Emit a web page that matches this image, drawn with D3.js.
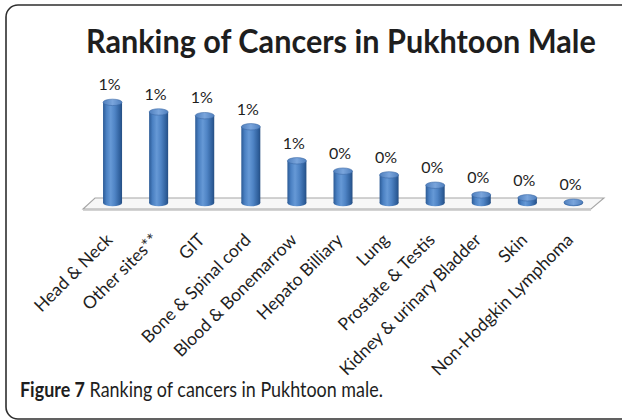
<!DOCTYPE html>
<html>
<head>
<meta charset="utf-8">
<script src="https://cdn.jsdelivr.net/npm/d3@7"></script>
<style>
  html, body { margin: 0; padding: 0; background: #ffffff; }
  svg { display: block; }
  text { font-family: Lato, "Open Sans", "DejaVu Sans", sans-serif; fill: #1e1e1e; }
</style>
</head>
<body>
<svg id="chart" width="622" height="420"></svg>
<script>
// Cancer sites, ranked, with share of cases among Pukhtoon males (percent)
const categories = [
  "Head & Neck", "Other sites**", "GIT", "Bone & Spinal cord",
  "Blood & Bonemarrow", "Hepato Billiary", "Lung", "Prostate & Testis",
  "Kidney & urinary Bladder", "Skin", "Non-Hodgkin Lymphoma"
];
const values = [1.36, 1.23, 1.18, 1.03, 0.57, 0.43, 0.38, 0.24, 0.11, 0.07, 0.01];
const valueLabels = values.map(v => Math.round(v) + "%");

const titleText = "Ranking of Cancers in Pukhtoon Male";
const captionBold = "Figure 7";
const captionRest = " Ranking of cancers in Pukhtoon male.";

const svg = d3.select("#chart");

// Rounded panel frame
svg.append("rect")
  .attr("x", 6).attr("y", 5)
  .attr("width", 660).attr("height", 414)
  .attr("rx", 12).attr("ry", 12)
  .attr("fill", "#ffffff")
  .attr("stroke", "#2e2e2e")
  .attr("stroke-width", 1.6);

// Scales
const x = d3.scalePoint()
  .domain(categories)
  .range([89.5, 596.5])
  .padding(0.5);

const y = d3.scaleLinear()
  .domain([0, 1.5])
  .range([203, 92]);

const barW = 19;
const capRy = 3.2;

// Gradients for the cylinder shading
const defs = svg.append("defs");
const bodyGrad = defs.append("linearGradient")
  .attr("id", "cyl").attr("x1", "0%").attr("x2", "100%").attr("y1", "0%").attr("y2", "0%");
[[0, "#2b5a95"], [0.18, "#4a80c2"], [0.4, "#6699d6"], [0.62, "#4f84c5"], [0.9, "#2e5e9a"], [1, "#264e82"]]
  .forEach(([o, c]) => bodyGrad.append("stop").attr("offset", o).attr("stop-color", c));
const capGrad = defs.append("linearGradient")
  .attr("id", "cap").attr("x1", "0%").attr("x2", "100%").attr("y1", "0%").attr("y2", "0%");
[[0, "#4f7fbd"], [0.5, "#7aa5dc"], [1, "#4f7fbd"]]
  .forEach(([o, c]) => capGrad.append("stop").attr("offset", o).attr("stop-color", c));

// Floor plane of the 3-D plot area
const [r0, r1] = x.range();
const backY = y(0) - 5, frontY = y(0) + 6;
const floor = [
  [r0 + 5.5, backY], [r1 + 7.5, backY],
  [r1 - 5.5, frontY], [r0 - 6.5, frontY]
];
svg.append("path")
  .attr("d", d3.line()(floor) + "Z")
  .attr("fill", "#f7f7f7")
  .attr("stroke", "#a6a6a6")
  .attr("stroke-width", 1.1);
svg.append("line")
  .attr("x1", floor[3][0]).attr("y1", frontY + 1)
  .attr("x2", floor[2][0]).attr("y2", frontY + 1)
  .attr("stroke", "#c4c4c4").attr("stroke-width", 1.6);

// Cylinders
const bars = svg.append("g").selectAll("g")
  .data(categories.map((c, i) => ({ c, v: values[i], label: valueLabels[i] })))
  .join("g");

bars.append("ellipse")
  .attr("cx", d => x(d.c))
  .attr("cy", y(0))
  .attr("rx", barW / 2).attr("ry", capRy)
  .attr("fill", "url(#cyl)");

bars.append("rect")
  .attr("x", d => x(d.c) - barW / 2)
  .attr("y", d => y(d.v))
  .attr("width", barW)
  .attr("height", d => y(0) - y(d.v))
  .attr("fill", "url(#cyl)");

bars.append("ellipse")
  .attr("cx", d => x(d.c))
  .attr("cy", d => y(d.v))
  .attr("rx", barW / 2).attr("ry", capRy)
  .attr("fill", "url(#cap)")
  .attr("stroke", "#3c6aa6").attr("stroke-width", 0.6);

// Value labels
bars.append("text")
  .attr("x", d => x(d.c) - 3)
  .attr("y", d => y(d.v) - capRy - 9)
  .attr("text-anchor", "middle")
  .attr("font-size", 16)
  .text(d => d.label);

// Category labels, rotated
svg.append("g").selectAll("text")
  .data(categories)
  .join("text")
  .attr("transform", d => `translate(${x(d) + 1},241) rotate(-45)`)
  .attr("text-anchor", "end")
  .attr("font-size", 17.5)
  .text(d => d);

// Title, fitted to its line
const title = svg.append("text")
  .attr("x", 0).attr("y", 0)
  .attr("font-size", 32)
  .attr("font-weight", 700)
  .text(titleText);
{
  const w = title.node().getComputedTextLength();
  const sx = 510 / w;
  title.attr("transform", `translate(86,53) scale(${sx},1)`);
}

// Caption
const caption = svg.append("text")
  .attr("x", 0).attr("y", 0)
  .attr("font-size", 21);
caption.append("tspan").attr("font-weight", 700).text(captionBold);
caption.append("tspan").text(captionRest);
{
  const w = caption.node().getComputedTextLength();
  const sx = 363 / w;
  caption.attr("transform", `translate(20,397) scale(${sx},1)`);
}
</script>
</body>
</html>
